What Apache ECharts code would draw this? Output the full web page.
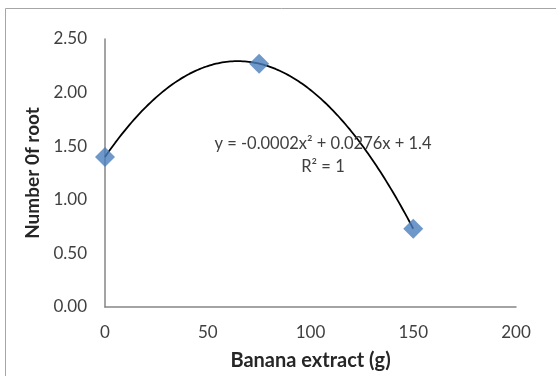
<!DOCTYPE html>
<html><head><meta charset="utf-8">
<script src="https://cdn.jsdelivr.net/npm/echarts@6/dist/echarts.min.js"></script>
<style>html,body{margin:0;padding:0;background:#fff}#c{width:556px;height:376px}</style>
</head><body><div id="c"></div>
<script>
var xValues = [0, 75, 150];
var yValues = [1.40, 2.27, 0.73];
var xTicks = [0, 50, 100, 150, 200];
var yTicks = [0, 0.5, 1.0, 1.5, 2.0, 2.5];
var equationText = 'y = -0.0002x\u00B2 + 0.0276x + 1.4';
var r2Text = 'R\u00B2 = 1';
var xTitle = 'Banana extract (g)';
var yTitle = 'Number 0f root';

// quadratic trendline fit through data (Excel polynomial order 2)
function fitQuad(xs, ys){
  var n=xs.length,S=[0,0,0,0,0],T=[0,0,0];
  for(var i=0;i<n;i++){var p=1;for(var k=0;k<5;k++){S[k]+=p;if(k<3)T[k]+=p*ys[i];p*=xs[i];}}
  var A=[[S[0],S[1],S[2],T[0]],[S[1],S[2],S[3],T[1]],[S[2],S[3],S[4],T[2]]];
  for(var c=0;c<3;c++){for(var r=c+1;r<3;r++){var f=A[r][c]/A[c][c];for(var j=c;j<4;j++)A[r][j]-=f*A[c][j];}}
  var s=[0,0,0];
  for(var r2=2;r2>=0;r2--){var v=A[r2][3];for(var j2=r2+1;j2<3;j2++)v-=A[r2][j2]*s[j2];s[r2]=v/A[r2][r2];}
  return s;
}
var co = fitQuad(xValues, yValues);
var trend = [];
var xMin = Math.min.apply(null,xValues), xMax = Math.max.apply(null,xValues);
for (var i=0;i<=150;i++){var x=xMin+(xMax-xMin)*i/150;trend.push([x,co[0]+co[1]*x+co[2]*x*x]);}

var font = 'Lato, "Open Sans", sans-serif';
var chart = echarts.init(document.getElementById('c'), null, {renderer:'canvas'});
chart.setOption({
  animation:false,
  backgroundColor:'#fff',
  graphic:[{type:'rect',shape:{x:5.5,y:8.5,width:600,height:400},style:{fill:'none',stroke:'#a6a6a6',lineWidth:1},z:-1}],
  grid:{left:105,right:40,top:39,bottom:67,containLabel:false},
  xAxis:{type:'value',min:0,max:200,interval:50,
    axisLine:{show:true,lineStyle:{color:'#868686',width:1.5}},axisTick:{show:false},splitLine:{show:false},
    axisLabel:{color:'#404040',fontSize:17,fontFamily:font,margin:17,formatter:function(v){return String(v);}},
    name:xTitle,nameLocation:'middle',nameGap:44,
    nameTextStyle:{color:'#262626',fontSize:20,fontWeight:'bold',fontFamily:font}},
  yAxis:{type:'value',min:0,max:2.5,interval:0.5,
    axisLine:{show:true,lineStyle:{color:'#868686',width:1.5}},axisTick:{show:false},splitLine:{show:false},
    axisLabel:{color:'#404040',fontSize:17,fontFamily:font,margin:18,formatter:function(v){return v.toFixed(2);}},
    name:yTitle,nameLocation:'middle',nameGap:58,
    nameTextStyle:{color:'#262626',fontSize:19,fontWeight:'bold',fontFamily:font}},
  series:[
    {type:'line',data:trend,showSymbol:false,symbol:'none',smooth:false,
     lineStyle:{color:'#000',width:1.8},z:2,silent:true},
    {type:'scatter',data:xValues.map(function(x,i){return [x,yValues[i]];}),
     symbol:'diamond',symbolSize:[20,20],itemStyle:{color:'#4a7ebb'},z:3}
  ],
  title:[{text:equationText,left:318,top:130,textAlign:'center',
    textStyle:{color:'#404040',fontSize:16.5,fontWeight:'normal',fontFamily:font}},
    {text:r2Text,left:318,top:153,textAlign:'center',
    textStyle:{color:'#404040',fontSize:16.5,fontWeight:'normal',fontFamily:font}}]
});
</script></body></html>
